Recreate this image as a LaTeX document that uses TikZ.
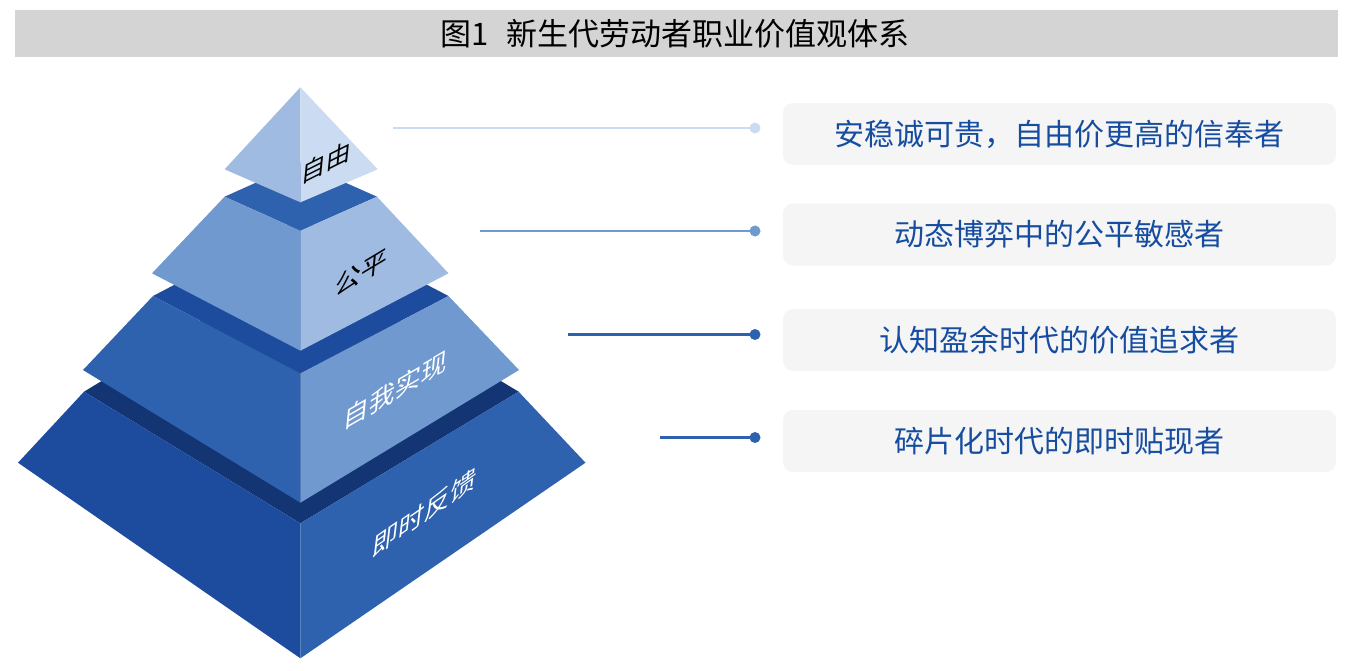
\documentclass[tikz,border=0pt]{standalone}
\usepackage{fontspec}
\newfontfamily\cjk{Noto Sans CJK SC}
\definecolor{titlegray}{HTML}{D3D4D3}
\definecolor{boxgray}{HTML}{F5F5F5}
\definecolor{txtblue}{HTML}{164DA0}
\definecolor{cA}{HTML}{CBDBF1}
\definecolor{cB}{HTML}{A0BBE1}
\definecolor{cC}{HTML}{7099CF}
\definecolor{cD}{HTML}{2E62AE}
\definecolor{cE}{HTML}{1D4C9E}
\definecolor{cF}{HTML}{143574}
\begin{document}
\begin{tikzpicture}[x=1pt,y=-1pt,
  infobox/.style={fill=boxgray, rounded corners=10pt, minimum width=553pt, minimum height=62pt, inner sep=0pt,
    font=\cjk\fontsize{30}{36}\selectfont, text=txtblue},
  lbl/.style={inner sep=0pt, font=\cjk\fontsize{26}{30}\selectfont},
  conn/.style={line width=2.8pt},
  endpt/.style={circle, inner sep=0pt, minimum size=11pt}]
\useasboundingbox (0,0) rectangle (1354,670);
% title
\fill[titlegray] (15,10) rectangle (1338,57);
\node[inner sep=0pt, font=\cjk\fontsize{31}{36}\selectfont, text=black] (title) at (675,34) {图1\hspace{0.6em}新生代劳动者职业价值观体系};
% layer 4 (bottom)
\fill[cF] (84,391.7) -- (300.4,260) -- (518.6,391.7) -- (300.4,523.3) -- cycle;
\fill[cE] (84,391.7) -- (300.4,523.3) -- (300.4,658.3) -- (18,462.7) -- cycle;
\fill[cD] (300.4,523.3) -- (518.6,391.7) -- (585.5,462.7) -- (300.4,658.3) -- cycle;
% layer 3
\fill[cE] (153,296) -- (300.4,218.7) -- (448.5,296) -- (300.4,373.3) -- cycle;
\fill[cD] (153,296) -- (300.4,373.3) -- (300.4,502.7) -- (83,370) -- cycle;
\fill[cC] (300.4,373.3) -- (448.5,296) -- (519,370) -- (300.4,502.7) -- cycle;
% layer 2
\fill[cD] (224.6,196.7) -- (300.4,162.7) -- (377,196.7) -- (300.4,230.7) -- cycle;
\fill[cC] (224.6,196.7) -- (300.4,230.7) -- (300.4,350.7) -- (152,273.3) -- cycle;
\fill[cB] (300.4,230.7) -- (377,196.7) -- (448.5,273.3) -- (300.4,350.7) -- cycle;
% layer 1 (top)
\fill[cB] (300.4,87.3) -- (224.6,169.3) -- (300.4,202.3) -- cycle;
\fill[cA] (300.4,87.3) -- (300.4,202.3) -- (377.7,169.3) -- cycle;
% pyramid labels
\node[lbl, text=black, cm={1,0.5,0.1,1,(0,0)}, font=\cjk\fontsize{25}{28}\selectfont] (l1) at (326,162) {自由};
\node[lbl, text=black, cm={1,0.6,0.1,1,(0,0)}] (l2) at (361,272.5) {公平};
\node[lbl, text=white, cm={1,0.58,0.1,1,(0,0)}] (l3) at (395,390) {自我实现};
\node[lbl, text=white, cm={1,0.7,0.12,1,(0,0)}] (l4) at (425,512.5) {即时反馈};
% boxes
\node[infobox] (b1) at (1059.5,134) {安稳诚可贵，自由价更高的信奉者};
\node[infobox] (b2) at (1059.5,234.5) {动态博弈中的公平敏感者};
\node[infobox] (b3) at (1059.5,340) {认知盈余时代的价值追求者};
\node[infobox] (b4) at (1059.5,441) {碎片化时代的即时贴现者};
% connectors
\coordinate (s1) at (393,128);
\coordinate (s2) at (480,231);
\coordinate (s3) at (568,334.5);
\coordinate (s4) at (660,437.5);
\node[endpt, fill=cA] (d1) at (755,128) {};
\node[endpt, fill=cC] (d2) at (755,231) {};
\node[endpt, fill=cD] (d3) at (755,334.5) {};
\node[endpt, fill=cD] (d4) at (755,437.5) {};
\draw[conn, cA] (s1) -- (d1.center);
\draw[conn, cC] (s2) -- (d2.center);
\draw[conn, cD] (s3) -- (d3.center);
\draw[conn, cD] (s4) -- (d4.center);
\end{tikzpicture}
\end{document}
